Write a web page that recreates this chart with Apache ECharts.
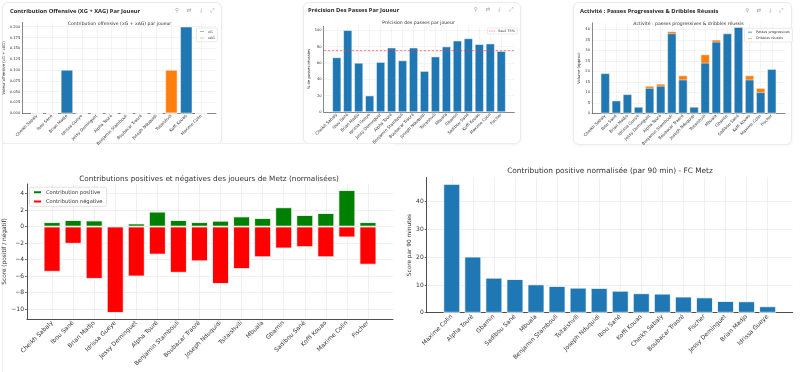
<!DOCTYPE html>
<html><head><meta charset="utf-8">
<script src="https://cdn.jsdelivr.net/npm/echarts@6/dist/echarts.min.js"></script>
<style>
html,body{margin:0;padding:0;background:#fff;}
#wrap{position:relative;width:800px;height:372px;overflow:hidden;}
.card{position:absolute;background:#fff;border:1px solid #ebebeb;border-radius:6px;box-shadow:0 1px 3px rgba(0,0,0,0.05);}
#c{position:absolute;left:0;top:0;width:800px;height:372px;}
</style>
</head><body><div id="wrap">
<div class="card" style="left:2px;top:2px;width:218px;height:141px"></div>
<div class="card" style="left:303px;top:2px;width:216px;height:140px"></div>
<div class="card" style="left:573px;top:2px;width:217px;height:141px"></div>
<div class="card" style="left:2px;top:143px;width:392px;height:240px;border-radius:0;box-shadow:none;border-color:#efefef;border-right:none;border-bottom:none"></div>
<div id="c"></div></div>
<script>
// ---------- DATA ----------
const offPlayers = ["Cheikh Sabaly","Ibou Sané","Brian Madjo","Idrissa Gueye","Jessy Deminguet","Alpha Touré","Benjamin Stambouli","Boubacar Traoré","Joseph Nduquidi","Tsitaishvili","Koffi Kouao","Maxime Colin"];
const offXG  = [0,0,0.1,0,0,0,0,0,0,0,0.2,0];
const offXAG = [0,0,0,0,0,0,0,0,0,0.1,0,0];
const offTicks = [0,0.025,0.05,0.075,0.1,0.125,0.15,0.175,0.2];

const passPlayers = ["Cheikh Sabaly","Ibou Sané","Brian Madjo","Idrissa Gueye","Jessy Deminguet","Alpha Touré","Benjamin Stambouli","Boubacar Traoré","Joseph Nduquidi","Tsitaishvili","Mbuala","Gbamin","Sadibou Sané","Koffi Kouao","Maxime Colin","Fischer"];
const passPct = [66.7,100,60,20,61,78.6,63,78.6,50,67.7,80,87.2,90,82.9,83.6,74.4];
const passThreshold = 75;
const passTicks = [0,20,40,60,80,100];

const actPlayers = ["Cheikh Sabaly","Ibou Sané","Brian Madjo","Idrissa Gueye","Jessy Deminguet","Alpha Touré","Benjamin Stambouli","Boubacar Traoré","Joseph Nduquidi","Tsitaishvili","Mbuala","Gbamin","Sadibou Sané","Koffi Kouao","Maxime Colin","Fischer"];
const actProg = [19,6,9,3,12,13,38,16,3,24,34,38,41,16,10,21];
const actDrib = [0,0,0,0,1,1,1,2,0,4,1,0,0,2,2,0];
const actTicks = [0,5,10,15,20,25,30,35,40];

const contribPlayers = ["Cheikh Sabaly","Ibou Sané","Brian Madjo","Idrissa Gueye","Jessy Deminguet","Alpha Touré","Benjamin Stambouli","Boubacar Traoré","Joseph Nduquidi","Tsitaishvili","Mbuala","Gbamin","Sadibou Sané","Koffi Kouao","Maxime Colin","Fischer"];
const contribPos = [0.53,0.78,0.73,0.12,0.37,1.8,0.78,0.53,0.7,1.22,1.02,2.33,1.39,1.63,4.41,0.53];
const contribNeg = [-5.47,-2.08,-6.33,-10.45,-6.04,-3.39,-5.59,-4.2,-6.94,-5.14,-3.71,-2.65,-2.49,-3.71,-1.31,-4.61];
const contribTicks = [-10,-8,-6,-4,-2,0,2,4];

const p90Players = ["Maxime Colin","Alpha Touré","Gbamin","Sadibou Sané","Mbuala","Benjamin Stambouli","Tsitaishvili","Joseph Nduquidi","Ibou Sané","Koffi Kouao","Cheikh Sabaly","Boubacar Traoré","Fischer","Jessy Deminguet","Brian Madjo","Idrissa Gueye"];
const p90Values = [46.4,20.2,12.6,12.1,10.2,9.6,9.0,8.9,7.9,7.0,6.85,5.8,5.5,4.2,4.1,2.3];
const p90Ticks = [0,10,20,30,40];

// ---------- HELPERS ----------
const FONT = 'DejaVu Sans';
function xLim(n){ const s=n-0.2; return [-0.4-0.05*s, n-0.6+0.05*s]; }
function yLim(lo,hi){ const s=hi-lo; return [lo<0? lo-0.05*s : 0, hi+0.05*s]; }
function sum(a,b){ return a.map((v,i)=>v+b[i]); }
const minus = v => (v<0 ? '\u2212'+Math.abs(v) : String(v));

const panels = [
  {box:{left:22.3,top:22.4,width:193.7,height:90.9}, names:offPlayers, ylim:yLim(0,Math.max(...sum(offXG,offXAG))),
   ticks:offTicks, fmt:v=>v.toFixed(3), yname:'Valeur offensive (xG + xAG)', gap:10, s:'small'},
  {box:{left:323.7,top:26.2,width:190.6,height:85.8}, names:passPlayers, ylim:yLim(0,Math.max(...passPct)),
   ticks:passTicks, fmt:v=>String(v), yname:'% de passes réussies', gap:11, s:'small'},
  {box:{left:592,top:22.9,width:193,height:90.4}, names:actPlayers, ylim:yLim(0,Math.max(...sum(actProg,actDrib))),
   ticks:actTicks, fmt:v=>String(v), yname:'Volume (approx)', gap:10, s:'small'},
  {box:{left:27,top:184,width:366,height:135}, names:contribPlayers, ylim:yLim(Math.min(...contribNeg),Math.max(...contribPos)),
   ticks:contribTicks, fmt:minus, yname:'Score (positif / négatif)', gap:17, s:'big'},
  {box:{left:426.7,top:177.5,width:366,height:135.2}, names:p90Players, ylim:yLim(0,Math.max(...p90Values)),
   ticks:p90Ticks, fmt:v=>String(v), yname:'Score par 90 minutes', gap:13, s:'big'}
];

const grids=[], xAxes=[], yAxes=[];
panels.forEach((p,i)=>{
  const big = p.s==='big';
  p.xlim = xLim(p.names.length);
  p.bw = 0.8*p.box.width/(p.xlim[1]-p.xlim[0]);
  grids.push(Object.assign({outerBoundsMode:'none', containLabel:false}, p.box));
  const idx = p.names.map((_,k)=>k);
  xAxes.push({type:'value', gridIndex:i, min:p.xlim[0], max:p.xlim[1],
    axisLine:{show:true,onZero:false,lineStyle:{color:'#3a3a3a',width:big?0.9:0.6}},
    axisTick:{show:false, customValues:idx},
    axisLabel:{customValues:idx, formatter:v=>p.names[Math.round(v)]||'', rotate:45, fontSize:big?6:4.1,
      color:'#333', margin:big?3:2, fontFamily:FONT, hideOverlap:false},
    splitLine:{show:true,lineStyle:{color:'#e8e8e8',width:big?0.7:0.5}}});
  yAxes.push({type:'value', gridIndex:i, min:p.ylim[0], max:p.ylim[1],
    name:p.yname, nameLocation:'middle', nameGap:p.gap,
    nameTextStyle:{fontSize:big?5.8:3.8, color:'#333', fontFamily:FONT},
    axisLine:{show:true,onZero:false,lineStyle:{color:'#3a3a3a',width:big?0.9:0.6}},
    axisTick:{show:big, customValues:p.ticks, length:2, lineStyle:{color:'#3a3a3a',width:0.7}},
    axisLabel:{customValues:p.ticks, formatter:p.fmt, fontSize:big?6:3.7, color:'#333', margin:big?3:2, fontFamily:FONT},
    splitLine:{show:true,lineStyle:{color:'#e8e8e8',width:big?0.7:0.5}}});
});

// bars of one panel are overlapped (barGap -100%); a stacked segment is drawn as the running total behind the base bar
function barSeries(name, pi, vals, color, bwidth){
  return {type:'bar', name, xAxisIndex:pi, yAxisIndex:pi, barWidth:panels[pi].bw, barGap:'-100%',
    data: vals.map((v,k)=>[k,v]), itemStyle:{color, borderColor:'#fff', borderWidth:bwidth},
    emphasis:{disabled:true}, animation:false};
}
const BLUE='#1f77b4', ORANGE='#ff7f0e';
const series = [
  barSeries('xAG',0,sum(offXG,offXAG),ORANGE,0.5),
  barSeries('xG',0,offXG,BLUE,0.5),
  barSeries('% de passes réussies',1,passPct,BLUE,0.5),
  {type:'line', name:'Seuil 75%', xAxisIndex:1, yAxisIndex:1, symbol:'none', animation:false,
   data:[[panels[1].xlim[0],passThreshold],[panels[1].xlim[1],passThreshold]],
   lineStyle:{color:'#e8413c',type:[2.5,1.5],width:0.7}, itemStyle:{color:'#e8413c'}},
  barSeries('Dribbles réussis',2,sum(actProg,actDrib),ORANGE,0.5),
  barSeries('Passes progressives',2,actProg,BLUE,0.5),
  barSeries('Contribution positive',3,contribPos,'#008000',0.8),
  barSeries('Contribution négative',3,contribNeg,'#ff0000',0.8),
  barSeries('Score par 90 minutes',4,p90Values,BLUE,0.8)
];

function legendSmall(data,left,top){
  return {data, left, top, orient:'vertical', itemWidth:6, itemHeight:2.6, itemGap:1.6,
    padding:[1.5,2.5,1.5,1.5], backgroundColor:'#fff', borderColor:'#d4d4d4', borderWidth:0.5, borderRadius:1,
    textStyle:{fontSize:3.4,color:'#333',fontFamily:FONT, padding:[0,0,0,-2]}, selectedMode:false};
}
const legends = [
  legendSmall(['xG','xAG'],196.5,28),
  legendSmall([{name:'Seuil 75%',icon:'path://M0,0h3v1h-3z M4.5,0h3v1h-3z M9,0h3v1h-3z'}],487.5,28),
  legendSmall(['Passes progressives','Dribbles réussis'],744.5,28.3),
  {data:['Contribution positive','Contribution négative'], left:29.5, top:187.2, orient:'vertical',
   itemWidth:9, itemHeight:4, itemGap:3.2, padding:[2,4,2,2.5], backgroundColor:'#fff', borderColor:'#d0d0d0',
   borderWidth:0.6, borderRadius:2, selectedMode:false,
   textStyle:{fontSize:5.2,color:'#333',fontFamily:FONT,padding:[0,0,0,-1]}}
];

function txt(text,x,y,size,opt){
  opt=opt||{};
  return {type:'text', z:100, silent:true, style:{text, x, y, fill:opt.color||'#333',
    fontSize:size, fontFamily:opt.family||FONT, fontWeight:opt.weight||'normal',
    align:opt.align||'center', verticalAlign:'middle', textAlign:opt.align||'center', textVerticalAlign:'middle'}};
}
const CARDFONT = '"Open Sans", "Noto Sans", sans-serif';
const graphics = [
  txt('Contribution Offensive (XG + XAG) Par Joueur',10,11,5.8,{align:'left',weight:'bold',color:'#1e1e1e',family:CARDFONT}),
  txt('Précision Des Passes Par Joueur',308,10,5.8,{align:'left',weight:'bold',color:'#1e1e1e',family:CARDFONT}),
  txt('Activité : Passes Progressives & Dribbles Réussis',580,11,5.8,{align:'left',weight:'bold',color:'#1e1e1e',family:CARDFONT}),
  txt('Contribution offensive (xG + xAG) par joueur',119.5,24,4.6),
  txt('Précision des passes par joueur',418.5,22.8,4.6),
  txt('Activité : passes progressives & dribbles réussis',688.5,24,4.6),
  txt('Contributions positives et négatives des joueurs de Metz (normalisées)',209,179,7.3,{color:'#333'}),
  txt('Contribution positive normalisée (par 90 min) - FC Metz',610,171.5,7.4,{color:'#333'})
];
const icons = ['⚲','⇄','⤓','⤢'];
[[177,189,201,212,11],[475.7,487.7,499.3,511,10],[747.3,758.7,770,781,11]].forEach(r=>{
  for(let k=0;k<4;k++) graphics.push(txt(icons[k],r[k],r[4],5.5,{color:'#9a9a9a'}));
});

const chart = echarts.init(document.getElementById('c'), null, {renderer:'canvas'});
chart.setOption({
  animation:false, backgroundColor:'transparent',
  grid:grids, xAxis:xAxes, yAxis:yAxes, series, legend:legends, graphic:graphics,
  tooltip:{show:false}
});
</script></body></html>
